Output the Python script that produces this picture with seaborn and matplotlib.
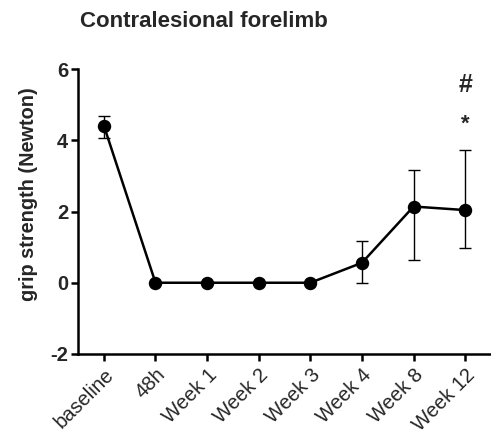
import matplotlib
matplotlib.use("Agg")
import matplotlib.pyplot as plt
import seaborn as sns
import pandas as pd
import numpy as np

timepoints = ["baseline", "48h", "Week 1", "Week 2", "Week 3", "Week 4", "Week 8", "Week 12"]
grip_mean = [4.41, 0.0, 0.0, 0.0, 0.0, 0.56, 2.14, 2.04]
err_low = [4.05, 0.0, 0.0, 0.0, 0.0, 0.0, 0.63, 0.97]
err_high = [4.67, 0.0, 0.0, 0.0, 0.0, 1.18, 3.17, 3.74]
yticks = [-2, 0, 2, 4, 6]

sns.set_theme(style="ticks")
plt.rcParams["font.family"] = ["Liberation Sans", "DejaVu Sans"]
plt.rcParams["axes.unicode_minus"] = False

df = pd.DataFrame({"time": timepoints, "grip": grip_mean})

fig = plt.figure(figsize=(4.91, 4.37), dpi=100)
ax = fig.add_axes([0.159, 0.19, 0.841, 0.652])

xpos = np.arange(len(timepoints))
mean = np.array(grip_mean)
yerr = np.vstack([mean - np.array(err_low), np.array(err_high) - mean])
ax.errorbar(xpos, mean, yerr=yerr, fmt="none", ecolor="black",
            elinewidth=1.0, capsize=4.5, capthick=1.0, zorder=2)

sns.pointplot(data=df, x="time", y="grip", order=timepoints, color="black",
              errorbar=None, markers="o", linewidth=1.8, markersize=8.3,
              ax=ax, zorder=3)

ax.set_xlim(-0.5, 7.5)
ax.set_ylim(-2, 6)
ax.set_yticks(yticks)
ax.set_xticks(xpos)
ax.set_xticklabels(timepoints, rotation=45, ha="right", rotation_mode="anchor",
                   fontsize=14.5, fontweight="normal")
ax.tick_params(axis="y", labelsize=14.5)
for lbl in ax.get_yticklabels():
    lbl.set_fontweight("bold")
ax.tick_params(axis="both", direction="out", length=5, width=1.8, color="black")
ax.tick_params(axis="x", pad=3)
ax.tick_params(axis="y", pad=2)

for side in ["top", "right"]:
    ax.spines[side].set_visible(False)
for side in ["left", "bottom"]:
    ax.spines[side].set_linewidth(1.8)
    ax.spines[side].set_color("black")

ax.set_xlabel("")
ax.set_ylabel("grip strength (Newton)", fontsize=14.3, fontweight="bold")
ax.yaxis.set_label_coords(-0.098, 0.56)

ax.text(7, 5.55, "#", ha="center", va="center", fontsize=18, fontweight="bold")
ax.text(7, 4.45, "*", ha="center", va="center", fontsize=16, fontweight="bold")

fig.text(0.163, 0.95, "Contralesional forelimb", ha="left", va="center",
         fontsize=16, fontweight="bold")

fig.savefig("out.png", dpi=100)
